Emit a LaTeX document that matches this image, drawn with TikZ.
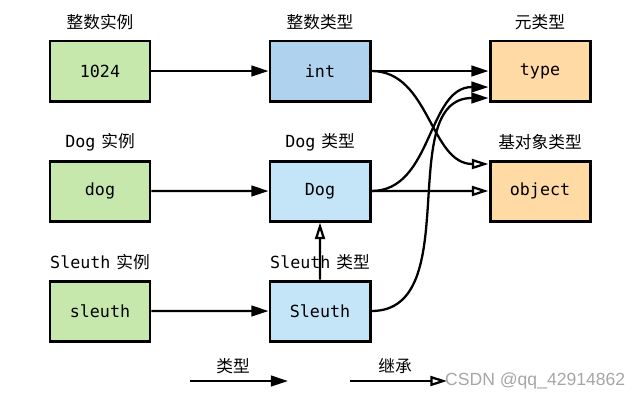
\documentclass[tikz,border=0pt]{standalone}
\usepackage{fontspec}
\setmainfont{DejaVu Sans Mono}
\newfontfamily\cjk{Noto Sans CJK SC}
\newfontfamily\wmfont{Liberation Sans}
\usetikzlibrary{arrows.meta,calc}
\definecolor{instgreen}{HTML}{C7E8AD}
\definecolor{intblue}{HTML}{AFD3EE}
\definecolor{clsblue}{HTML}{C4E4F7}
\definecolor{metaorange}{HTML}{FFDAA5}

\begin{document}
\begin{tikzpicture}[scale=0.2]
\tikzstyle{every node}+=[font=\fontsize{9.5}{11}\selectfont]
\tikzstyle{box}=[draw=black,line width=1.7pt,minimum width=2cm,minimum height=1.2cm,inner sep=0pt]
\tikzstyle{typeof}=[line width=1.3pt,-{Triangle[length=9.7pt,width=6pt]}]
\tikzstyle{inherit}=[line width=1.3pt,-{Triangle[open,length=9.5pt,width=5.7pt]}]
\useasboundingbox (0,0) rectangle (63.5,-40);
\node [box,fill=instgreen] (num) at (10,-7.1) {1024};
\node [box,fill=intblue] (int) at (32,-7.1) {int};
\node [box,fill=metaorange] (type) at (54,-7.1) {type};
\node [box,fill=instgreen] (dog) at (10,-19.1) {dog};
\node [box,fill=clsblue] (Dog) at (32,-19.1) {Dog};
\node [box,fill=metaorange] (object) at (54,-19.1) {object};
\node [box,fill=instgreen] (sleuth) at (10,-31.1) {sleuth};
\node [box,fill=clsblue] (Sleuth) at (32,-31.1) {Sleuth};
\node (lnum) at (10,-2.2) {\cjk 整数实例};
\node (lint) at (32,-2.2) {\cjk 整数类型};
\node (ltype) at (54,-2.2) {\cjk 元类型};
\node (ldog) at (10,-14.2) {Dog\hspace{0.35em}{\cjk 实例}};
\node (lDog) at (32,-14.2) {Dog\hspace{0.35em}{\cjk 类型}};
\node (lobject) at (54,-14.2) {\cjk 基对象类型};
\node (lsleuth) at (10,-26.2) {Sleuth\hspace{0.35em}{\cjk 实例}};
\node (lSleuth) at (32,-26.2) {Sleuth\hspace{0.35em}{\cjk 类型}};
\draw [typeof] (num) -- (int);
\draw [typeof] (dog) -- (Dog);
\draw [typeof] (sleuth) -- (Sleuth);
\draw [typeof] (int) -- (type);
\draw [inherit] (Dog) -- (object);
\draw [inherit] (Sleuth) -- (Dog);
\draw [inherit] (int.east) to [out=0,in=180] ($(object.north west)+(0,-0.45)$);
\draw [typeof] (Dog.east) to [out=0,in=180] ($(type.west)+(0,-1.6)$);
\draw [typeof] (Sleuth.east) to [out=0,in=180] ($(type.west)+(0,-2.7)$);
\node (ktype) at (23.3,-36.6) {\cjk 类型};
\node (kinherit) at (39.5,-36.6) {\cjk 继承};
\coordinate (ktypeA) at (19,-38.1);
\coordinate (ktypeB) at (28.8,-38.1);
\coordinate (kinheritA) at (35,-38.1);
\coordinate (kinheritB) at (44.7,-38.1);
\draw [typeof] (ktypeA) -- (ktypeB);
\draw [inherit] (kinheritA) -- (kinheritB);
\node [anchor=west,text=black!35,font=\wmfont\fontsize{10}{12}\selectfont] (mark) at (43.9,-38.1) {CSDN @qq\_42914862};
\end{tikzpicture}
\end{document}
